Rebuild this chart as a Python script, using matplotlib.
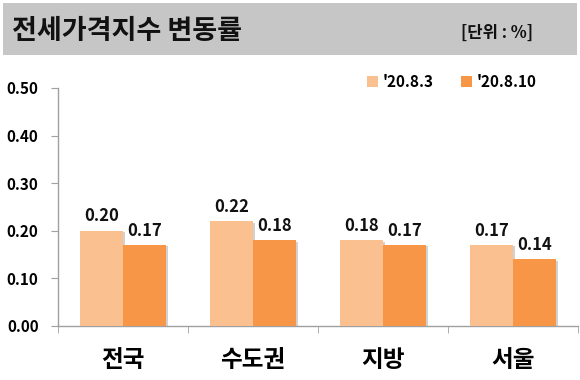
import matplotlib
matplotlib.use("Agg")
import matplotlib.pyplot as plt
from matplotlib.patches import Rectangle, Patch
import matplotlib.patheffects as pe
import numpy as np

plt.rcParams['font.family'] = ['Noto Sans CJK KR', 'DejaVu Sans']

categories = ['전국', '수도권', '지방', '서울']
series_names = ["'20.8.3", "'20.8.10"]
values_0803 = [0.20, 0.22, 0.18, 0.17]
values_0810 = [0.17, 0.18, 0.17, 0.14]
yticks = [0.00, 0.10, 0.20, 0.30, 0.40, 0.50]
title = '전세가격지수 변동률'
unit = '[단위 : %]'

colors = ['#FAC090', '#F79646']

fig = plt.figure(figsize=(5.8, 3.8), dpi=100)
# title box
fig.patches.append(Rectangle((3/580, 1-55/380), 574/580, 52/380, transform=fig.transFigure,
                             facecolor='#C6C6C6', edgecolor='none', zorder=0))
fig.text(12/580, 1-31/380, title, fontsize=19.5, fontweight='bold', va='center', ha='left', color='#111111')
fig.text(497/580, 1-33/380, unit, fontsize=12, fontweight='bold', va='center', ha='center', color='#111111')

ax = fig.add_axes([58/580, 1-326/380, 520/580, (326-88)/380])
x = np.arange(len(categories))
w = 0.33
shadow = [pe.SimplePatchShadow(offset=(1.5, -1), shadow_rgbFace='#999999', alpha=0.45), pe.Normal()]
b1 = ax.bar(x - w/2, values_0803, w, color=colors[0], zorder=3)
b2 = ax.bar(x + w/2, values_0810, w, color=colors[1], zorder=3)
for bars, vals in ((b1, values_0803), (b2, values_0810)):
    for r, v in zip(bars, vals):
        r.set_path_effects(shadow)
        ax.annotate(f'{v:.2f}', (r.get_x() + r.get_width()/2, v), xytext=(0, 4),
                    textcoords='offset points', ha='center', va='bottom',
                    fontsize=12, fontweight='bold', color='#111111')

ax.set_xlim(-0.5, len(categories) - 0.5)
ax.set_ylim(0, 0.5)
ax.set_yticks(yticks)
ax.set_yticklabels([f'{t:.2f}' for t in yticks], fontsize=11, fontweight='bold')
ax.set_xticks(x)
ax.set_xticklabels(categories, fontsize=17, fontweight='bold')
ax.set_xticks(np.arange(len(categories) + 1) - 0.5, minor=True)
ax.tick_params(axis='x', which='major', length=0, pad=16)
ax.tick_params(axis='x', which='minor', length=5, color='#A0A0A0', direction='out')
ax.tick_params(axis='y', length=5, color='#A0A0A0', pad=9)
for s in ['top', 'right']:
    ax.spines[s].set_visible(False)
for s in ['left', 'bottom']:
    ax.spines[s].set_color('#A0A0A0')
    ax.spines[s].set_linewidth(1)

handles = [Patch(facecolor=c, edgecolor='none') for c in colors]
leg = ax.legend(handles, series_names, ncol=2, frameon=False, loc='center right',
                bbox_to_anchor=(550/580, 1-82/380), bbox_transform=fig.transFigure,
                handlelength=0.7, handleheight=0.7, handletextpad=0.3, columnspacing=1.8,
                prop={'size': 11, 'weight': 'bold'})

fig.savefig('out.png', dpi=100)
